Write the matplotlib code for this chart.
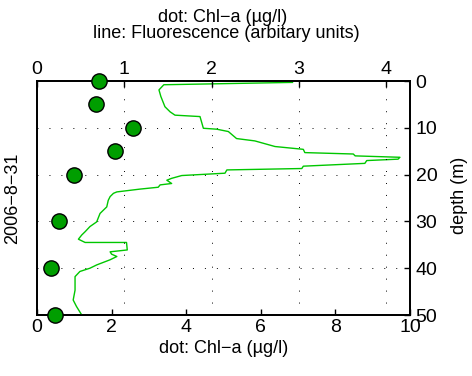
import matplotlib
matplotlib.use("Agg")
import matplotlib.pyplot as plt

plt.rcParams['font.family'] = ['Liberation Sans', 'DejaVu Sans']

# Chl-a dots (top axis units, 0-4) vs depth (m)
chl_depth = [0, 5, 10, 15, 20, 30, 40, 50]
chl_value = [0.71, 0.68, 1.10, 0.89, 0.42, 0.25, 0.16, 0.21]

# Fluorescence line (bottom axis units, 0-10) vs depth (m)
fl_value = [6.85, 3.40, 3.27, 3.32, 3.43, 3.57, 3.70, 4.37, 4.41, 4.46, 4.82,
            5.13, 5.35, 5.84, 6.38, 7.14, 7.18, 8.48, 8.53, 9.73, 9.68, 8.84,
            8.79, 7.14, 7.10, 5.09, 5.04, 3.88, 3.61, 3.48, 3.61, 3.30, 3.25,
            2.76, 2.14, 2.05, 1.96, 1.91, 1.87, 1.69, 1.60, 1.42, 1.29, 1.20,
            1.11, 1.29, 2.40, 2.42, 1.96, 2.00, 2.14, 1.96, 1.60, 1.42, 1.15,
            1.02, 1.02, 0.97, 1.06, 1.20]
fl_depth = [0.3, 0.8, 1.9, 3.3, 5.5, 6.6, 7.3, 7.6, 8.7, 10.1, 10.3,
            10.8, 12.3, 12.8, 14.0, 14.6, 15.3, 15.6, 16.0, 16.3, 16.7, 17.0,
            17.6, 18.2, 18.7, 19.0, 19.7, 20.2, 20.8, 21.2, 21.9, 22.2, 22.7,
            23.1, 23.7, 24.0, 24.7, 25.5, 26.9, 28.3, 30.1, 31.1, 32.2, 32.9,
            33.8, 34.5, 34.5, 36.1, 36.5, 37.0, 37.5, 38.2, 39.3, 40.0, 40.7,
            41.8, 44.7, 46.8, 48.2, 50.0]

bottom_ticks = [0, 2, 4, 6, 8, 10]
top_ticks = [0, 1, 2, 3, 4]
depth_ticks = [0, 10, 20, 30, 40, 50]

TICK_FS = 14
LABEL_FS = 13

fig = plt.figure(figsize=(4.72, 3.76), dpi=100)
ax = fig.add_axes([37/472, 1 - 315/376, (410 - 37)/472, (315 - 81)/376])
ax.plot(fl_value, fl_depth, color=(0.0, 0.78, 0.0), lw=1.0, zorder=3)
ax.set_xlim(0, 10)
ax.set_ylim(50, 0)
ax.set_xticks(bottom_ticks)
ax.set_yticks(depth_ticks)
ax.yaxis.tick_right()
ax.tick_params(axis='both', direction='in', length=4, width=1.0, labelsize=TICK_FS,
               pad=3)
ax.tick_params(axis='y', pad=4)
ax.set_xlabel('dot: Chl−a (µg/l)', fontsize=LABEL_FS, labelpad=3)
for s in ax.spines.values():
    s.set_linewidth(1.3)

# horizontal dotted grid at depth ticks
for d in depth_ticks[1:-1]:
    ax.axhline(d, color='black', lw=0.7, linestyle=(0, (1, 11.3)), zorder=1)

ax2 = ax.twiny()
ax2.set_xlim(0, 4.27)
ax2.set_xticks(top_ticks)
ax2.tick_params(axis='x', direction='in', length=4, width=1.0, labelsize=TICK_FS, pad=2)
for xv in top_ticks[1:]:
    ax2.axvline(xv, color='black', lw=0.7, linestyle=(0, (1, 11.3)), zorder=1)
ax2.plot(chl_value, chl_depth, linestyle='none', marker='o', markersize=11,
         markerfacecolor=(0.0, 0.62, 0.0), markeredgecolor='black',
         markeredgewidth=1.0, clip_on=False, zorder=5)
ax2.set_ylim(50, 0)
for s in ax2.spines.values():
    s.set_linewidth(1.3)

fig.text(223/472, 1 - 17/376, 'dot: Chl−a (µg/l)', ha='center', va='center', fontsize=LABEL_FS)
fig.text(226/472, 1 - 33/376, 'line: Fluorescence (arbitary units)', ha='center', va='center', fontsize=LABEL_FS)
fig.text(13/472, 1 - 198/376, '2006−8−31', ha='center', va='center', rotation=90, fontsize=LABEL_FS)
fig.text(460/472, 1 - 195/376, 'depth (m)', ha='center', va='center', rotation=90, fontsize=LABEL_FS)

fig.savefig('out.png', dpi=100)
